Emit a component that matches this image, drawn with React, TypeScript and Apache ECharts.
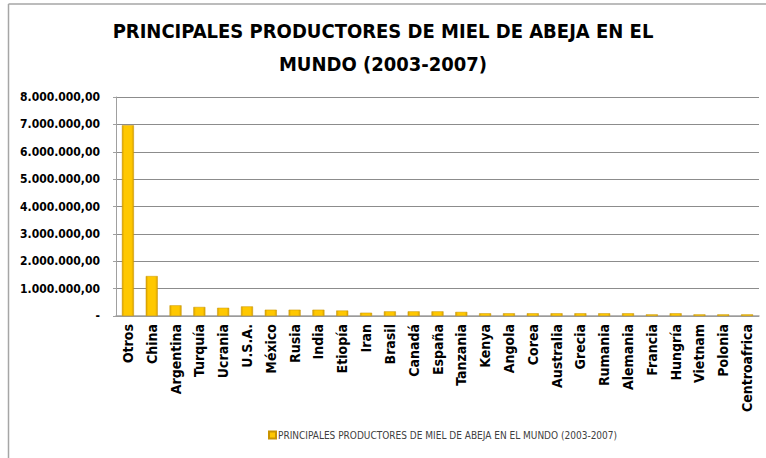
import React, { useEffect, useRef } from "react";
import * as echarts from "echarts";

const categories = [
  "Otros", "China", "Argentina", "Turquía", "Ucrania", "U.S.A.", "México", "Rusia", "India",
  "Etiopía", "Iran", "Brasil", "Canadá", "España", "Tanzania", "Kenya", "Angola", "Corea",
  "Australia", "Grecia", "Rumania", "Alemania", "Francia", "Hungría", "Vietnam", "Polonia", "Centroafrica",
];
const values = [
  6970000, 1460000, 390000, 330000, 300000, 350000, 230000, 230000, 230000,
  200000, 120000, 170000, 170000, 170000, 150000, 100000, 100000, 100000,
  100000, 100000, 100000, 100000, 60000, 100000, 60000, 60000, 60000,
];
const seriesName = "PRINCIPALES PRODUCTORES DE MIEL DE ABEJA EN EL MUNDO (2003-2007)";
const titleText = "PRINCIPALES PRODUCTORES DE MIEL DE ABEJA EN EL\nMUNDO (2003-2007)";

const FONT = "'Liberation Sans Narrow', 'DejaVu Sans Condensed', 'Open Sans', sans-serif";

function fmt(v: number): string {
  if (v === 0) return "-";
  const s = Math.round(v).toString().replace(/\B(?=(\d{3})+(?!\d))/g, ".");
  return s + ",00";
}

export default function App() {
  const ref = useRef<HTMLDivElement>(null);
  useEffect(() => {
    if (!ref.current) return;
    const chart = echarts.init(ref.current, undefined, { renderer: "svg" });
    const barColor = new echarts.graphic.LinearGradient(0, 0, 1, 0, [
      { offset: 0, color: "#D9A200" },
      { offset: 0.2, color: "#FFC800" },
      { offset: 0.8, color: "#FFC800" },
      { offset: 1, color: "#D9A200" },
    ]);
    chart.setOption({
      animation: false,
      backgroundColor: "#ffffff",
      title: {
        text: titleText,
        left: "center",
        top: 9,
        textStyle: {
          fontFamily: FONT,
          fontSize: 20,
          fontWeight: "bold",
          color: "#000000",
          lineHeight: 33,
        },
      },
      legend: {
        bottom: 13,
        left: 263,
        itemWidth: 7,
        itemHeight: 7,
        itemGap: 3,
        icon: "rect",
        textStyle: { fontFamily: FONT, fontSize: 10, color: "#404040", padding: [0, 0, 0, -3] },
        data: [seriesName],
      },
      grid: { left: 116, right: 7, top: 97, bottom: 142, containLabel: false },
      xAxis: {
        type: "category",
        data: categories,
        axisLine: { lineStyle: { color: "#a0a0a0", width: 1.5 } },
        axisTick: { show: false },
        axisLabel: {
          interval: 0,
          rotate: 90,
          fontFamily: FONT,
          fontSize: 14,
          fontWeight: "bold",
          color: "#000000",
          margin: 8,
        },
      },
      yAxis: {
        type: "value",
        min: 0,
        max: 8000000,
        interval: 1000000,
        axisLine: { show: true, lineStyle: { color: "#a0a0a0" } },
        axisTick: { show: true, length: 3, lineStyle: { color: "#a0a0a0" } },
        splitLine: { lineStyle: { color: "#8c8c8c", width: 1 } },
        axisLabel: {
          formatter: (v: number) => fmt(v),
          fontFamily: FONT,
          fontSize: 12,
          fontWeight: "bold",
          color: "#000000",
          margin: 16,
        },
      },
      series: [
        {
          name: seriesName,
          type: "bar",
          data: values,
          barWidth: 12,
          itemStyle: { color: barColor, borderColor: "#C99400", borderWidth: 0.5 },
        },
      ],
      graphic: [
        { type: "line", shape: { x1: 8.5, y1: 4, x2: 766, y2: 4 }, style: { stroke: "#a6a6a6", lineWidth: 1.5 } },
        { type: "line", shape: { x1: 8.5, y1: 4, x2: 8.5, y2: 458 }, style: { stroke: "#a6a6a6", lineWidth: 1.5 } },
      ],
    });
    return () => chart.dispose();
  }, []);
  return (
    <div
      ref={ref}
      style={{ position: "absolute", left: 0, top: 0, width: 766, height: 458 }}
    />
  );
}
